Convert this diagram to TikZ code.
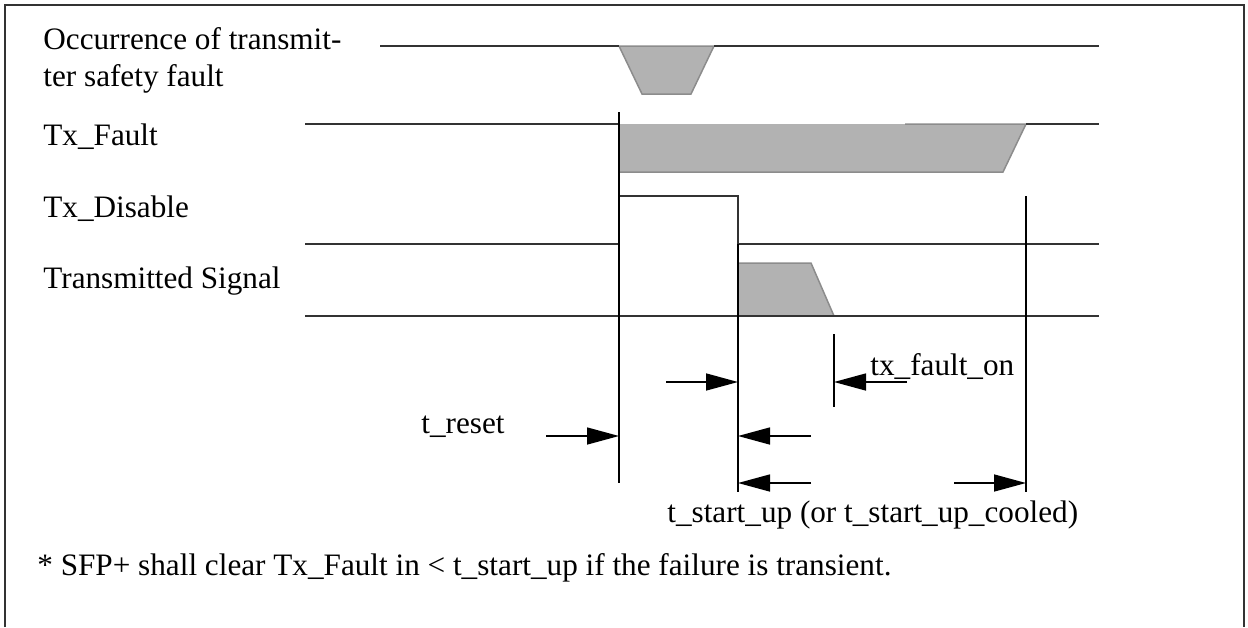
\documentclass[tikz,border=0pt]{standalone}
\usepackage{fontspec}
\setmainfont{Liberation Serif}
\usepackage{tikz}
\usetikzlibrary{arrows.meta,positioning}

\begin{document}
\begin{tikzpicture}[
    x=0.5pt, y=-0.5pt,
    lbl/.style={anchor=base west, inner sep=0pt, font=\fontsize{15.6}{19}\selectfont},
    sig/.style={draw=black!80, line width=1pt},
    busy/.style={fill=black!30, draw=black!45, line width=0.75pt},
    marker/.style={draw=black, line width=0.75pt},
    arrow/.style={-{Triangle[length=16pt,width=8.5pt]}, line width=0.75pt},
]
    \useasboundingbox (0,0) rectangle (1248,627);

    % Frame (open at the bottom)
    \draw[draw=black!80, line width=1.25pt] (5,627) -- (5,5) -- (1244,5) -- (1244,627);

    % Signal names
    \node[lbl] (occ1) at (43,49) {Occurrence of transmit-};
    \node[lbl] (occ2) at (43,86) {ter safety fault};
    \node[lbl] (fault) at (43,145) {Tx\_Fault};
    \node[lbl] (disable) at (43,217) {Tx\_Disable};
    \node[lbl] (signal) at (43,288) {Transmitted Signal};

    % Occurrence of fault
    \fill[busy] (619,46) -- (714,46) -- (691,94) -- (642,94) -- cycle;
    \draw[sig] (380,46) -- (619,46);
    \draw[sig] (714,46) -- (1099,46);

    % Tx_Fault
    \fill[black!30] (619,124) -- (1026,124) -- (1003,172) -- (619,172) -- cycle;
    \draw[draw=black!45, line width=0.75pt] (905,124) -- (1026,124) -- (1003,172) -- (619,172);
    \draw[sig] (305,124) -- (619,124);
    \draw[sig] (1026,124) -- (1099,124);

    % Tx_Disable
    \draw[sig] (305,244) -- (619,244);
    \draw[sig] (619,196) -- (738,196) -- (738,244) -- (1099,244);

    % Transmitted Signal
    \fill[busy] (738,263) -- (811,263) -- (834,316) -- (738,316) -- cycle;
    \draw[sig] (305,316) -- (1099,316);

    % Timing markers
    \draw[marker] (619,112) coordinate (resetTop) -- (619,483) coordinate (resetBot);
    \draw[marker] (738,244) -- (738,492);
    \draw[marker] (1026,196) -- (1026,492);
    \draw[marker] (834,334) -- (834,407);

    % Arrow ends
    \coordinate (resetIn) at (546,436);
    \coordinate (resetEnd) at (619,436);
    \coordinate (upIn) at (666,382);
    \coordinate (upEnd) at (738,382);
    \coordinate (onIn) at (907,382);
    \coordinate (onEnd) at (834,382);
    \coordinate (startIn) at (811,436);
    \coordinate (startEnd) at (738,436);
    \coordinate (coolIn) at (811,483);
    \coordinate (coolEnd) at (738,483);
    \coordinate (coolOut) at (954,483);
    \coordinate (coolStop) at (1026,483);

    \draw[arrow] (resetIn) -- (resetEnd);
    \draw[arrow] (upIn) -- (upEnd);
    \draw[arrow] (onIn) -- (onEnd);
    \draw[arrow] (startIn) -- (startEnd);
    \draw[arrow] (coolIn) -- (coolEnd);
    \draw[arrow] (coolOut) -- (coolStop);

    % Timing labels
    \node[lbl] (treset) at (421,433) {t\_reset};
    \node[lbl] (faulton) at (870,375) {tx\_fault\_on};
    \node[lbl] (startup) at (667,522) {t\_start\_up (or t\_start\_up\_cooled)};

    % Note
    \node[lbl] (note) at (37,575) {* SFP+ shall clear Tx\_Fault in < t\_start\_up if the failure is transient.};
\end{tikzpicture}
\end{document}
